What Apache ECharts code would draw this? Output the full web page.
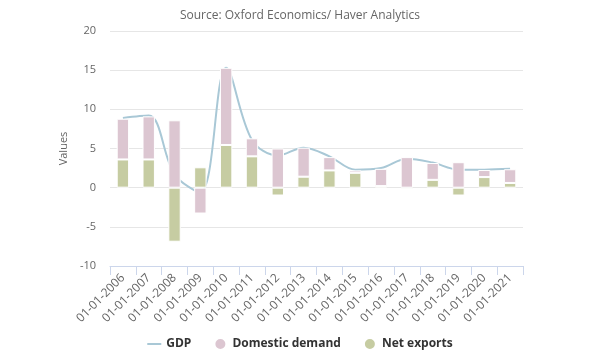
<!DOCTYPE html>
<html><head><meta charset="utf-8">
<script src="https://cdn.jsdelivr.net/npm/echarts@6/dist/echarts.min.js"></script>
<style>html,body{margin:0;padding:0;background:#fff}#c{width:600px;height:360px}</style>
</head><body><div id="c"></div>
<script>
const categories = ['01-01-2006','01-01-2007','01-01-2008','01-01-2009','01-01-2010','01-01-2011','01-01-2012','01-01-2013','01-01-2014','01-01-2015','01-01-2016','01-01-2017','01-01-2018','01-01-2019','01-01-2020','01-01-2021'];
const gdp = [8.9, 9.2, 1.7, -0.6, 15.3, 6.1, 4.1, 5.1, 4.0, 2.3, 2.5, 3.7, 3.2, 2.3, 2.3, 2.4];
const domesticDemand = [5.2, 5.5, 8.6, -3.3, 9.85, 2.3, 5.0, 3.7, 1.7, 0.3, 2.2, 3.9, 2.15, 3.25, 0.9, 1.75];
const netExports = [3.6, 3.6, -6.9, 2.6, 5.45, 4.0, -1.0, 1.4, 2.2, 1.9, 0.2, -0.2, 1.0, -1.0, 1.35, 0.6];
const yTicks = [-10, -5, 0, 5, 10, 15, 20];

const FONT = 'Open Sans';
const chart = echarts.init(document.getElementById('c'), null, {renderer: 'canvas'});
chart.setOption({
  animation: false,
  title: {
    text: 'Source: Oxford Economics/ Haver Analytics',
    left: 'center', top: 5,
    textStyle: {fontFamily: FONT, fontSize: 12, fontWeight: 'normal', color: '#666'}
  },
  legend: {
    bottom: 4, left: 'center', itemGap: 22, itemWidth: 14, itemHeight: 12,
    textStyle: {fontFamily: FONT, fontSize: 12, fontWeight: 'bold', color: '#333'},
    data: [
      {name: 'GDP', icon: 'path://M0,5 L14,5 L14,7 L0,7 Z'},
      {name: 'Domestic demand', icon: 'circle'},
      {name: 'Net exports', icon: 'circle'}
    ]
  },
  grid: {left: 110, right: 77, top: 31, bottom: 94},
  xAxis: {
    type: 'category', data: categories, boundaryGap: true,
    axisLine: {onZero: false, lineStyle: {color: '#ccd6eb'}},
    axisTick: {show: true, length: 9, lineStyle: {color: '#ccd6eb'}},
    axisLabel: {rotate: 45, fontFamily: FONT, fontSize: 12, color: '#666', margin: 10, interval: 0}
  },
  yAxis: {
    type: 'value', min: yTicks[0], max: yTicks[yTicks.length - 1], interval: 5,
    name: 'Values', nameLocation: 'middle', nameGap: 40, nameRotate: 90,
    nameTextStyle: {fontFamily: FONT, fontSize: 11, color: '#666'},
    axisLine: {show: false}, axisTick: {show: false},
    axisLabel: {fontFamily: FONT, fontSize: 11, color: '#666', margin: 14},
    splitLine: {lineStyle: {color: '#e6e6e6'}}
  },
  series: [
    {
      name: 'GDP', type: 'line', data: gdp, smooth: 0.35, symbol: 'none', z: 1,
      lineStyle: {color: '#a9c8d6', width: 2}, itemStyle: {color: '#a9c8d6'}
    },
    {
      name: 'Net exports', type: 'bar', stack: 's', data: netExports, barWidth: '48%', z: 3,
      itemStyle: {color: '#c6cca2', borderColor: '#fff', borderWidth: 1}
    },
    {
      name: 'Domestic demand', type: 'bar', stack: 's', data: domesticDemand, barWidth: '48%', z: 3,
      itemStyle: {color: '#dcc6d1', borderColor: '#fff', borderWidth: 1}
    }
  ]
});
</script></body></html>
